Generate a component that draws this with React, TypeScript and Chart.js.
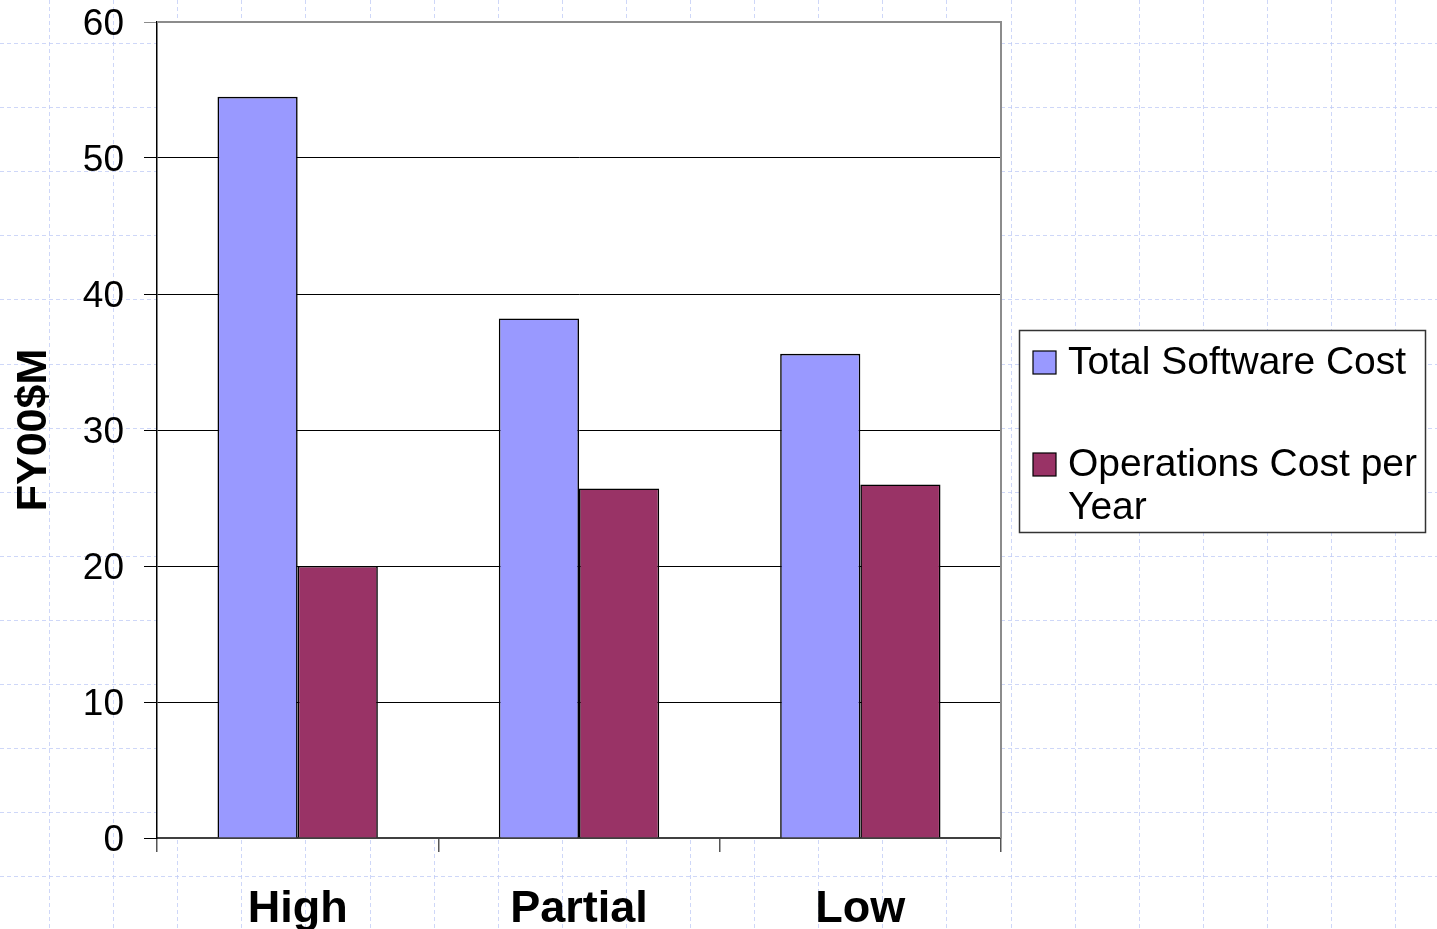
import React, { useEffect, useRef } from "react";
import { Chart, registerables } from "chart.js";

Chart.register(...registerables);

const categories = ["High", "Partial", "Low"];
const totalSoftwareCost = [54.5, 38.2, 35.6];
const operationsCostPerYear = [20.0, 25.7, 26.0];
const seriesLabels = ["Total Software Cost", "Operations Cost per Year"];
const seriesColors = ["#9999FF", "#993366"];
const yTicks = [0, 10, 20, 30, 40, 50, 60];
const yTitle = "FY00$M";

const FONT = "'Liberation Sans', Arial, sans-serif";

const pageGridPlugin = {
  id: "pageGrid",
  beforeDraw(chart: any) {
    const { ctx, width, height, chartArea } = chart;
    ctx.save();
    ctx.fillStyle = "#ffffff";
    ctx.fillRect(0, 0, width, height);
    ctx.strokeStyle = "rgba(190, 202, 245, 0.75)";
    ctx.lineWidth = 1;
    ctx.setLineDash([4, 3]);
    for (let x = 49; x < width; x += 64.1) {
      ctx.beginPath();
      ctx.moveTo(Math.round(x) + 0.5, 0);
      ctx.lineTo(Math.round(x) + 0.5, height);
      ctx.stroke();
    }
    for (let y = 43; y < height; y += 64.1) {
      ctx.beginPath();
      ctx.moveTo(0, Math.round(y) + 0.5);
      ctx.lineTo(width, Math.round(y) + 0.5);
      ctx.stroke();
    }
    ctx.setLineDash([]);
    ctx.fillStyle = "#ffffff";
    ctx.fillRect(chartArea.left, chartArea.top, chartArea.right - chartArea.left, chartArea.bottom - chartArea.top);
    ctx.restore();
  },
  afterDraw(chart: any) {
    const { ctx, chartArea } = chart;
    ctx.save();
    ctx.strokeStyle = "#8c8c8c";
    ctx.lineWidth = 2;
    ctx.beginPath();
    ctx.moveTo(chartArea.left, chartArea.top);
    ctx.lineTo(chartArea.right, chartArea.top);
    ctx.lineTo(chartArea.right, chartArea.bottom);
    ctx.stroke();

    const bx = 1019, by = 330, bw = 406, bh = 202;
    ctx.fillStyle = "#ffffff";
    ctx.fillRect(bx, by, bw, bh);
    ctx.strokeStyle = "#333333";
    ctx.lineWidth = 1.5;
    ctx.strokeRect(bx + 0.5, by + 0.5, bw, bh);
    ctx.font = `39px ${FONT}`;
    ctx.textBaseline = "middle";
    ctx.textAlign = "left";
    const maxW = bx + bw - 1068 - 2;
    const itemY = [363, 465];
    chart.data.datasets.forEach((ds: any, i: number) => {
      const cy = itemY[i];
      ctx.fillStyle = ds.backgroundColor;
      ctx.fillRect(1033, cy - 12, 23, 23);
      ctx.strokeStyle = "#000000";
      ctx.lineWidth = 1.2;
      ctx.strokeRect(1033, cy - 12, 23, 23);
      const words = String(ds.label).split(" ");
      const lines: string[] = [];
      let cur = "";
      for (const w of words) {
        const t = cur ? cur + " " + w : w;
        if (ctx.measureText(t).width > maxW && cur) {
          lines.push(cur);
          cur = w;
        } else cur = t;
      }
      if (cur) lines.push(cur);
      ctx.fillStyle = "#000000";
      lines.forEach((ln, j) => ctx.fillText(ln, 1068, cy + j * 43));
    });
    ctx.restore();
  },
};

export default function App() {
  const ref = useRef<HTMLCanvasElement | null>(null);
  useEffect(() => {
    if (!ref.current) return;
    const chart = new Chart(ref.current, {
      type: "bar",
      data: {
        labels: categories,
        datasets: [
          {
            label: seriesLabels[0],
            data: totalSoftwareCost,
            backgroundColor: seriesColors[0],
            borderColor: "#000000",
            borderWidth: 1.6,
            categoryPercentage: 0.57,
            barPercentage: 1.0,
          },
          {
            label: seriesLabels[1],
            data: operationsCostPerYear,
            backgroundColor: seriesColors[1],
            borderColor: "#000000",
            borderWidth: 1.6,
            categoryPercentage: 0.57,
            barPercentage: 1.0,
          },
        ],
      },
      options: {
        animation: false,
        responsive: false,
        maintainAspectRatio: false,
        layout: { padding: { top: 22, right: 436, bottom: 0, left: 0 } },
        plugins: {
          legend: { display: false },
          tooltip: { enabled: false },
        },
        scales: {
          x: {
            afterFit: (s: any) => {
              s.height = 91;
            },
            grid: {
              offset: true,
              drawOnChartArea: false,
              drawTicks: true,
              tickLength: 14,
              color: "#555555",
              lineWidth: 1.5,
            },
            border: { display: true, color: "#404040", width: 2 },
            ticks: {
              color: "#000000",
              padding: 31,
              font: { family: FONT, size: 45, weight: "bold" },
            },
          },
          y: {
            min: 0,
            max: 60,
            afterFit: (s: any) => {
              s.width = 157;
              s.paddingTop = 0;
              s.paddingBottom = 0;
            },
            afterBuildTicks: (s: any) => {
              s.ticks = yTicks.map((v) => ({ value: v }));
            },
            grid: {
              color: (c: any) => (c.tick && c.tick.value === 60 ? "#8c8c8c" : "#000000"),
              lineWidth: 1,
              tickLength: 13,
              drawTicks: true,
            },
            border: { display: true, color: "#000000", width: 1.5 },
            ticks: {
              color: "#000000",
              padding: 20,
              labelOffset: 3,
              font: { family: FONT, size: 37 },
            },
            title: {
              display: true,
              text: yTitle,
              color: "#000000",
              padding: { top: 8, bottom: 0 },
              font: { family: FONT, size: 43, weight: "bold" },
            },
          },
        },
      },
      plugins: [pageGridPlugin],
    });
    return () => chart.destroy();
  }, []);
  return (
    <div style={{ position: "absolute", left: 0, top: 0, width: 1437, height: 929 }}>
      <canvas ref={ref} width={1437} height={929} style={{ display: "block" }} />
    </div>
  );
}
